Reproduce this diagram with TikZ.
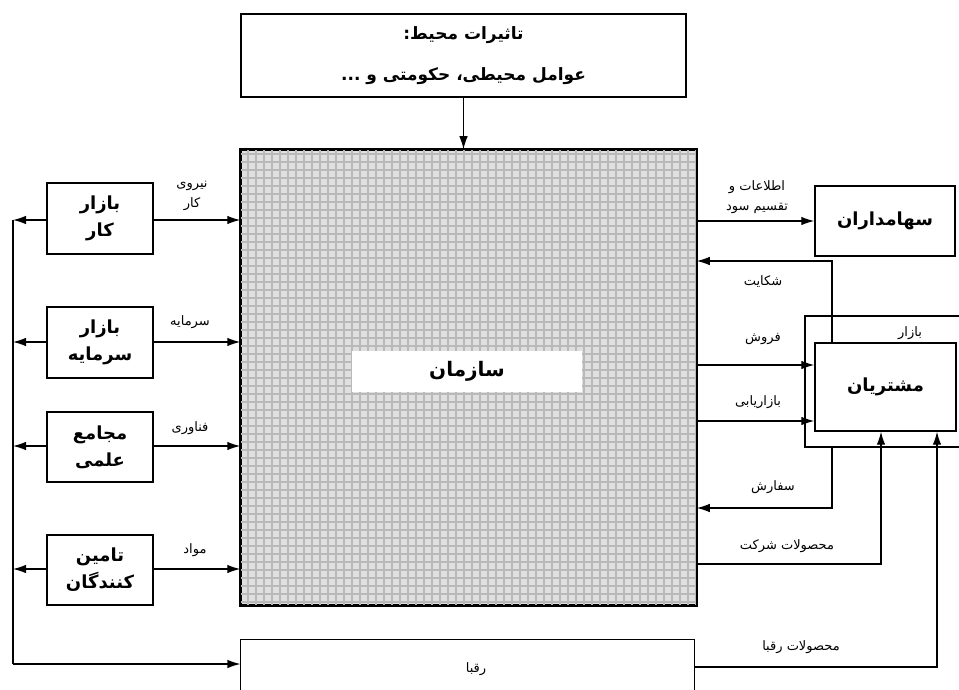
\documentclass[tikz,border=0pt]{standalone}
\usepackage{fontspec}
\TeXXeTstate=1
\newfontfamily\fafont[Script=Arabic]{DejaVu Sans}
\newcommand\faR[1]{\beginR#1\endR}
\usetikzlibrary{arrows.meta,patterns.meta}
\begin{document}
\begin{tikzpicture}[x=1pt,y=-1pt,
  line width=1.2pt,
  arr/.style={-{Latex[length=13pt,width=8.5pt]}},
  box/.style={draw,rectangle,line width=1.4pt,inner sep=0pt,align=center,font=\fafont\bfseries\fontsize{18}{27}\selectfont},
  lbl/.style={inner sep=0pt,align=center,font=\fafont\fontsize{13}{20}\selectfont},
  conn/.style={line width=1.2pt}]
\useasboundingbox (0,0) rectangle (959,690);
% environment
\node[box,minimum width=445pt,minimum height=83pt,font=\fafont\bfseries\fontsize{17}{41}\selectfont] (env) at (463.5,55.5) {\faR{تاثیرات محیط:}\\\faR{عوامل محیطی، حکومتی و ...}};
% organization
\node[draw,rectangle,line width=1.5pt,minimum width=455pt,minimum height=455pt,inner sep=0pt,fill=gray!25] (org) at (468.5,377.5) {};
\fill[pattern={Lines[angle=0,distance=8pt,line width=2.4pt]},pattern color=gray!55] (org.north west) rectangle (org.south east);
\fill[pattern={Lines[angle=90,distance=8pt,line width=2.4pt]},pattern color=gray!55] (org.north west) rectangle (org.south east);
\draw[line width=1.6pt] (org.north west) rectangle (org.south east);
\node[fill=white,minimum width=230pt,minimum height=41pt,inner sep=0pt,font=\fafont\bfseries\fontsize{20}{24}\selectfont] (sazman) at (467,371.5) {\faR{سازمان}};
\draw[arr,conn] (env.south) -- (org.north -| env.south);
% left boxes
\node[box,minimum width=106pt,minimum height=71pt] (b1) at (100,218.5) {\faR{بازار}\\\faR{کار}};
\node[box,minimum width=106pt,minimum height=71pt] (b2) at (100,342.5) {\faR{بازار}\\\faR{سرمایه}};
\node[box,minimum width=106pt,minimum height=70pt] (b3) at (100,447) {\faR{مجامع}\\\faR{علمی}};
\node[box,minimum width=106pt,minimum height=70pt] (b4) at (100,570) {\faR{تامین}\\\faR{کنندگان}};
\coordinate (ltop) at (13,220);
\coordinate (lbot) at (13,664);
\draw[arr,conn] (b1.east |- 0,220) -- (org.west |- 0,220);
\draw[arr,conn] (b2.east |- 0,342) -- (org.west |- 0,342);
\draw[arr,conn] (b3.east |- 0,446) -- (org.west |- 0,446);
\draw[arr,conn] (b4.east |- 0,569) -- (org.west |- 0,569);
\draw[arr,conn] (b1.west |- 0,220) -- (ltop);
\draw[arr,conn] (b2.west |- 0,342) -- (ltop |- 0,342);
\draw[arr,conn] (b3.west |- 0,446) -- (ltop |- 0,446);
\draw[arr,conn] (b4.west |- 0,569) -- (ltop |- 0,569);
\node[lbl] (l1) at (192,196) {\faR{نیروی}\\\faR{کار}};
\node[lbl] (l2) at (190,322) {\faR{سرمایه}};
\node[lbl] (l3) at (190,428) {\faR{فناوری}};
\node[lbl] (l4) at (195,550) {\faR{مواد}};
% rivals
\node[minimum width=453pt,minimum height=60pt,inner sep=0pt] (raqba) at (467.5,670) {};
\draw[line width=1.4pt] (raqba.south west) -- (raqba.north west) -- (raqba.north east) -- (raqba.south east);
\node[lbl] (raqbatxt) at (476,669) {\faR{رقبا}};
\draw[conn] (ltop) -- (lbot);
\draw[arr,conn] (lbot) -- (raqba.west |- lbot);
% right side
\node[box,minimum width=140pt,minimum height=70pt] (sh) at (885,221) {\faR{سهامداران}};
\draw[arr,conn] (org.east |- sh.west) -- (sh.west);
\node[lbl] (l5) at (757,197) {\faR{اطلاعات و}\\\faR{تقسیم سود}};
% market
\coordinate (mkNE) at (960,316);
\coordinate (mkNW) at (805,316);
\coordinate (mkSW) at (805,447);
\coordinate (mkSE) at (960,447);
\draw[line width=1.3pt] (mkNE) -- (mkNW) -- (mkSW) -- (mkSE);
\node[lbl] (mklbl) at (910,333) {\faR{بازار}};
\node[box,minimum width=141pt,minimum height=88pt] (cust) at (885.5,387) {\faR{مشتریان}};
\coordinate (c1) at (832,343);
\coordinate (c2) at (832,261);
\draw[arr,conn] (c1) -- (c2) -- (org.east |- c2);
\node[lbl] (l6) at (763,282) {\faR{شکایت}};
\draw[arr,conn] (org.east |- 0,365) -- (cust.west |- 0,365);
\node[lbl] (l7) at (763,339) {\faR{فروش}};
\draw[arr,conn] (org.east |- 0,421) -- (cust.west |- 0,421);
\node[lbl] (l8) at (758,402) {\faR{بازاریابی}};
\coordinate (c3) at (832,447);
\coordinate (c4) at (832,508);
\draw[arr,conn] (c3) -- (c4) -- (org.east |- c4);
\node[lbl] (l9) at (773,487) {\faR{سفارش}};
\coordinate (c5) at (881,564);
\draw[arr,conn] (org.east |- c5) -- (c5) -- (cust.south -| c5);
\node[lbl] (l10) at (787,546) {\faR{محصولات شرکت}};
\coordinate (c6) at (937,667);
\draw[arr,conn] (raqba.east |- c6) -- (c6) -- (cust.south -| c6);
\node[lbl] (l11) at (801,647) {\faR{محصولات رقبا}};
\end{tikzpicture}
\end{document}
